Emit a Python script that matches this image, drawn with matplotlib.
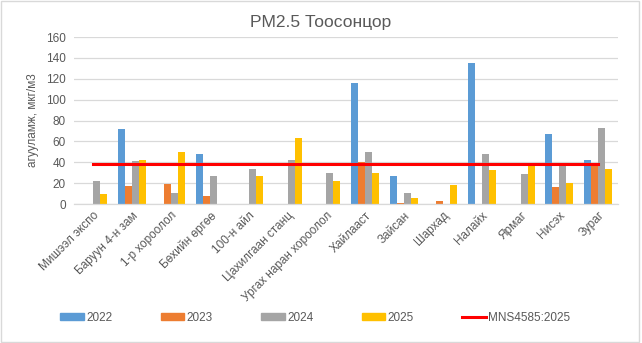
import numpy as np
import matplotlib
matplotlib.use("Agg")
import matplotlib.pyplot as plt
from matplotlib.patches import Rectangle
from matplotlib.lines import Line2D

plt.rcParams['font.family'] = ['Liberation Sans', 'DejaVu Sans']

nan = np.nan
stations = ["Мишээл экспо", "Баруун 4-н зам", "1-р хороолол", "Бөхийн өргөө",
            "100-н айл", "Цахилгаан станц", "Ургах наран хороолол", "Хайлааст",
            "Зайсан", "Шархад", "Налайх", "Ярмаг", "Нисэх", "Зураг"]
y2022 = [nan, 72, nan, 48, nan, nan, nan, 116, 27, nan, 135, nan, 67, 42]
y2023 = [nan, 17.5, 19.5, 8, nan, nan, nan, 40, 1, 3, nan, nan, 16.5, 39]
y2024 = [22, 41, 10.5, 27, 33.5, 42, 29.5, 50, 10.5, nan, 48, 28.5, 38, 73]
y2025 = [10, 42, 50, nan, 27, 63, 22, 29.5, 5.5, 18, 32.5, 38, 20, 33.5]
mns_limit = 38

series = [("2022", y2022, "#5B9BD5"), ("2023", y2023, "#ED7D31"),
          ("2024", y2024, "#A5A5A5"), ("2025", y2025, "#FFC000")]

fig = plt.figure(figsize=(6.42, 3.43), dpi=100)
fig.patches.append(Rectangle((0.002, 0.003), 0.994, 0.994, transform=fig.transFigure,
                             fill=False, edgecolor="#D9D9D9", linewidth=1.0))
ax = fig.add_axes([0.1153, 0.405, 0.8467, 0.487])

x = np.arange(len(stations))
w = 0.18
for i, (name, vals, col) in enumerate(series):
    ax.bar(x + (i - 1.5) * w, np.array(vals, dtype=float), width=w, color=col,
           label=name, zorder=2)
ax.plot(x, [mns_limit] * len(stations), color="#FF0000", linewidth=2.2,
        label="MNS4585:2025", zorder=3)

ax.set_xlim(-0.5, len(stations) - 0.5)
ax.set_ylim(0, 160)
ax.set_yticks(range(0, 161, 20))
ax.grid(axis="y", color="#D9D9D9", linewidth=0.9, zorder=0)
ax.set_axisbelow(True)
for s in ["top", "right", "left"]:
    ax.spines[s].set_visible(False)
ax.spines["bottom"].set_color("#D9D9D9")
ax.spines["bottom"].set_linewidth(0.9)
ax.tick_params(axis="both", length=0, colors="#595959", labelsize=8.5)
ax.tick_params(axis="y", pad=6)
ax.set_xticks(x)
ax.set_xticklabels(stations, rotation=45, ha="right", va="top",
                   rotation_mode="anchor")
ax.tick_params(axis="x", pad=4)
ax.set_ylabel("агууламж, мкг/м3", fontsize=8.5, color="#595959", labelpad=5)

fig.text(0.5, 0.935, "PM2.5 Тоосонцор", ha="center", va="center",
         fontsize=12.5, color="#595959")

handles = [Rectangle((0, 0), 1, 1, color=c) for _, _, c in series]
handles.append(Line2D([0], [0], color="#FF0000", linewidth=2.2))
labels = [n for n, _, _ in series] + ["MNS4585:2025"]
fig.legend(handles, labels, loc="center left", bbox_to_anchor=(0.0935, 0.073),
           ncol=5, frameon=False, fontsize=8.5, labelcolor="#595959",
           borderpad=0, borderaxespad=0,
           handlelength=2.0, handleheight=0.5, handletextpad=0.2,
           columnspacing=4.1)

fig.savefig("out.png", dpi=100)
